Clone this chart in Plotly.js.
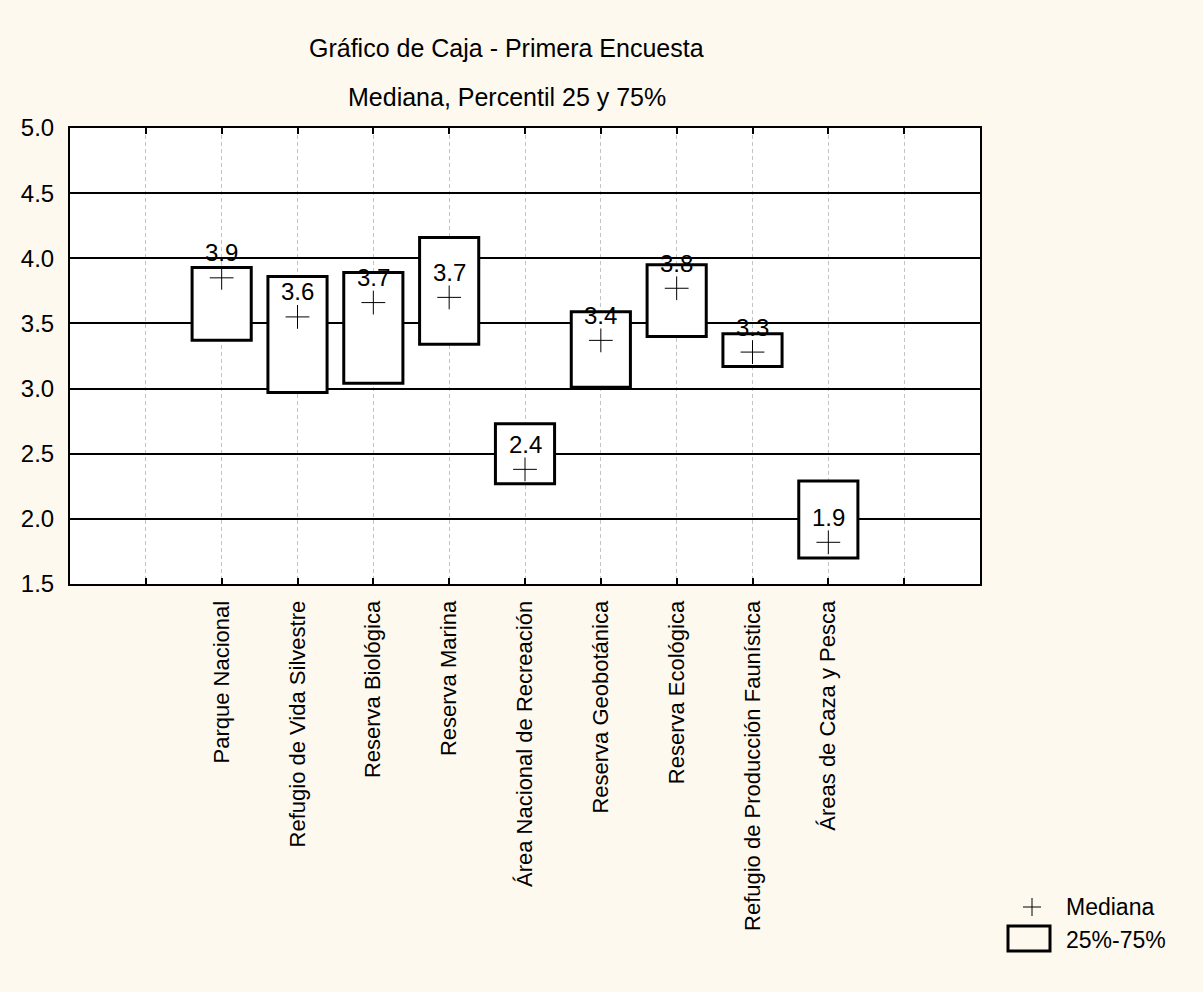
<!DOCTYPE html>
<html>
<head>
<meta charset="utf-8">
<script src="https://cdn.plot.ly/plotly-3.0.1.min.js"></script>
<style>html,body{margin:0;padding:0;background:#FEF9EF;}</style>
</head>
<body>
<div id="chart" style="width:1203px;height:992px;"></div>
<script>
const categories = ["Parque Nacional","Refugio de Vida Silvestre","Reserva Biológica","Reserva Marina","Área Nacional de Recreación","Reserva Geobotánica","Reserva Ecológica","Refugio de Producción Faunística","Áreas de Caza y Pesca"];
const positions = [2,3,4,5,6,7,8,9,10];
const q25 = [3.37,2.97,3.04,3.34,2.27,3.01,3.40,3.17,1.70];
const q75 = [3.93,3.86,3.89,4.16,2.73,3.59,3.95,3.42,2.29];
const medians = [3.85,3.55,3.66,3.70,2.38,3.37,3.77,3.28,1.82];
const labels = ["3.9","3.6","3.7","3.7","2.4","3.4","3.8","3.3","1.9"];
const legendLabels = ["Mediana","25%-75%"];

const font = "'Liberation Sans', Arial, sans-serif";

const boxTrace = {
  type: "bar",
  name: legendLabels[1],
  x: positions,
  base: q25,
  y: q75.map((v, i) => v - q25[i]),
  width: 0.78,
  marker: {color: "#ffffff", line: {color: "#000000", width: 3}},
  hoverinfo: "skip",
  showlegend: false
};
const medTrace = {
  type: "scatter",
  mode: "markers",
  name: legendLabels[0],
  x: positions,
  y: medians,
  marker: {symbol: "cross-thin", size: 17, color: "#000", line: {color: "#000", width: 1}},
  showlegend: false
};

// pixel -> paper helpers for legend placement (plot area 70..980 x, 128..584 y)
const px = v => (v - 70) / 910;
const py = v => (584 - v) / 456;

const annotations = positions.map((p, i) => ({
  x: p, y: medians[i], xref: "x", yref: "y",
  text: labels[i], showarrow: false, yshift: 25, yanchor: "middle",
  font: {family: font, size: 24, color: "#000"}
}));
annotations.push({xref: "paper", yref: "paper", x: 0.48, y: 1, yshift: 80, yanchor: "middle", text: "Gráfico de Caja - Primera Encuesta", showarrow: false, font: {family: font, size: 25, color: "#000"}});
annotations.push({xref: "paper", yref: "paper", x: 0.48, y: 1, yshift: 31, yanchor: "middle", text: "Mediana, Percentil 25 y 75%", showarrow: false, font: {family: font, size: 25, color: "#000"}});
annotations.push({xref: "paper", yref: "paper", x: px(1064), y: py(907), xanchor: "left", yanchor: "middle", text: legendLabels[0], showarrow: false, font: {family: font, size: 23, color: "#000"}});
annotations.push({xref: "paper", yref: "paper", x: px(1064), y: py(940), xanchor: "left", yanchor: "middle", text: legendLabels[1], showarrow: false, font: {family: font, size: 23, color: "#000"}});

const shapes = [
  {type: "rect", xref: "paper", yref: "paper", x0: px(1008), x1: px(1050), y0: py(926), y1: py(951), line: {color: "#000", width: 3}, fillcolor: "rgba(0,0,0,0)"},
  {type: "line", xref: "paper", yref: "paper", x0: px(1023), x1: px(1041), y0: py(907), y1: py(907), line: {color: "#000", width: 1}},
  {type: "line", xref: "paper", yref: "paper", x0: px(1032), x1: px(1032), y0: py(898), y1: py(916), line: {color: "#000", width: 1}}
];

const layout = {
  width: 1203, height: 992,
  paper_bgcolor: "#FEF9EF",
  plot_bgcolor: "#ffffff",
  margin: {l: 70, r: 223, t: 128, b: 408},
  font: {family: font, size: 22, color: "#000"},
  showlegend: false,
  bargap: 0,
  xaxis: {
    range: [0, 12],
    tickmode: "array",
    tickvals: [1,2,3,4,5,6,7,8,9,10,11],
    ticktext: [""].concat(categories, [""]),
    tickangle: -90,
    ticks: "inside", ticklen: 6, tickwidth: 2, tickcolor: "#000",
    showgrid: true, gridcolor: "#c4c4c4", gridwidth: 1, griddash: "4px,3px",
    showline: true, linecolor: "#000", linewidth: 2, mirror: "ticks",
    zeroline: false, fixedrange: true,
    tickfont: {family: font, size: 22, color: "#000"},
    ticklabelstandoff: 6
  },
  yaxis: {
    range: [1.5, 5.0],
    dtick: 0.5, tick0: 1.5, tickformat: ".1f",
    ticks: "", showgrid: true, gridcolor: "#000", gridwidth: 2,
    showline: true, linecolor: "#000", linewidth: 2, mirror: true,
    zeroline: false, fixedrange: true,
    tickfont: {family: font, size: 24, color: "#000"},
    ticklabelstandoff: 9
  },
  annotations: annotations,
  shapes: shapes
};

Plotly.newPlot("chart", [boxTrace, medTrace], layout, {displayModeBar: false, staticPlot: true});
</script>
</body>
</html>
